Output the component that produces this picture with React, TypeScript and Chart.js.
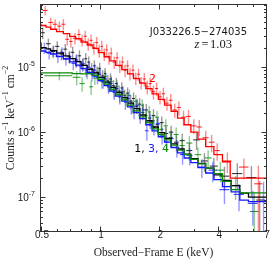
import React, { useEffect, useRef } from "react";
import { Chart, registerables } from "chart.js";
Chart.register(...registerables);

// ---------- axes ----------
const xRange = [0.5, 7];
const yRange = [3.43e-8, 9.1e-5];
const xMajorTicks = [0.5, 1, 2, 4, 7];
const xTickLabels = ["0.5", "1", "2", "4", "7"];
const xMinorTicks = [0.6, 0.7, 0.8, 0.9, 3, 5, 6];
const yMajorTicks = [1e-7, 1e-6, 1e-5];
const yTickBase = ["10", "10", "10"];
const yTickExp = ["-7", "-6", "-5"];
const yMinorTicks = [4e-8, 5e-8, 6e-8, 7e-8, 8e-8, 9e-8, 2e-7, 3e-7, 4e-7, 5e-7, 6e-7, 7e-7, 8e-7, 9e-7, 2e-6, 3e-6, 4e-6, 5e-6, 6e-6, 7e-6, 8e-6, 9e-6, 2e-5, 3e-5, 4e-5, 5e-5, 6e-5, 7e-5, 8e-5, 9e-5];
const xTitle = "Observed\u2212Frame E (keV)";
const yTitleParts = [["Counts s", "\u22121"], [" keV", "\u22121"], [" cm", "\u22122"]];

// ---------- annotations ----------
const sourceName = "J033226.5\u2212274035";
const sourceAnchor = [3.17, 3.42e-5];
const redshiftText = "1.03";
const redshiftAnchor = [3.77, 2.25e-5];
const label2Anchor = [1.85, 6.65e-6];
const label134Anchor = [1.83, 5.4e-7];

// ---------- models (bin edges + values) ----------
const redModelE = [0.5, 0.53, 0.56, 0.6, 0.65, 0.7, 0.75, 0.8, 0.86, 0.92, 0.98, 1.05, 1.12, 1.2, 1.29, 1.38, 1.48, 1.59, 1.71, 1.84, 1.98, 2.13, 2.3, 2.48, 2.68, 2.9, 3.15, 3.45, 3.8, 4.2, 4.6, 5.75, 7.0];
const redModelF = [4.7e-5, 4.4e-5, 4.15e-5, 3.85e-5, 3.55e-5, 3.3e-5, 3.0e-5, 2.75e-5, 2.45e-5, 2.2e-5, 1.95e-5, 1.68e-5, 1.45e-5, 1.25e-5, 1.07e-5, 9.2e-6, 7.9e-6, 6.7e-6, 5.7e-6, 4.7e-6, 3.9e-6, 3.2e-6, 2.6e-6, 2.1e-6, 1.65e-6, 1.3e-6, 1.0e-6, 7.8e-7, 6.0e-7, 4.5e-7, 3.5e-7, 1.96e-7];

const blackModelE = [0.5, 0.53, 0.56, 0.6, 0.65, 0.7, 0.75, 0.8, 0.86, 0.92, 0.98, 1.05, 1.12, 1.2, 1.29, 1.38, 1.48, 1.59, 1.71, 1.84, 1.98, 2.13, 2.3, 2.48, 2.68, 2.9, 3.15, 3.45, 3.8, 4.2, 4.65, 5.15, 5.7, 6.3, 7.0];
const blackModelF = [2.4e-5, 2.0e-5, 1.92e-5, 1.8e-5, 1.65e-5, 1.5e-5, 1.36e-5, 1.22e-5, 1.07e-5, 9.3e-6, 8.2e-6, 7.0e-6, 5.9e-6, 4.9e-6, 4.1e-6, 3.4e-6, 2.8e-6, 2.3e-6, 1.85e-6, 1.5e-6, 1.2e-6, 9.8e-7, 8.0e-7, 6.6e-7, 5.5e-7, 4.6e-7, 3.9e-7, 3.3e-7, 2.8e-7, 2.2e-7, 1.8e-7, 1.5e-7, 1.15e-7, 1.0e-7];

const blueModelE = [0.5, 0.53, 0.56, 0.6, 0.65, 0.7, 0.75, 0.8, 0.86, 0.92, 0.98, 1.05, 1.12, 1.2, 1.29, 1.38, 1.48, 1.59, 1.71, 1.84, 1.98, 2.13, 2.3, 2.48, 2.68, 2.9, 3.15, 3.45, 3.8, 4.2, 4.65, 5.15, 5.7, 6.3, 7.0];
const blueModelF = [1.9e-5, 1.78e-5, 1.7e-5, 1.6e-5, 1.47e-5, 1.34e-5, 1.21e-5, 1.08e-5, 9.5e-6, 8.3e-6, 7.3e-6, 6.2e-6, 5.2e-6, 4.3e-6, 3.6e-6, 3.0e-6, 2.45e-6, 2.0e-6, 1.62e-6, 1.3e-6, 1.05e-6, 8.5e-7, 7.0e-7, 5.8e-7, 4.8e-7, 4.0e-7, 3.4e-7, 2.85e-7, 2.35e-7, 1.85e-7, 1.45e-7, 1.2e-7, 9.0e-8, 8.5e-8];

const greenModelE = [0.5, 0.72, 0.8, 0.86, 0.92, 0.98, 1.05, 1.12, 1.2, 1.29, 1.38, 1.48, 1.59, 1.71, 1.84, 1.98, 2.13, 2.3, 2.48, 2.68, 2.9, 3.15, 3.45, 3.8, 4.2, 4.65, 5.15, 5.7, 6.3, 7.0];
const greenModelF = [7.4e-6, 8.2e-6, 8.0e-6, 7.9e-6, 8.0e-6, 7.5e-6, 6.5e-6, 5.5e-6, 4.55e-6, 3.8e-6, 3.15e-6, 2.6e-6, 2.12e-6, 1.72e-6, 1.4e-6, 1.12e-6, 9.2e-7, 7.6e-7, 6.3e-7, 5.3e-7, 4.5e-7, 3.8e-7, 3.25e-7, 2.8e-7, 2.3e-7, 1.75e-7, 1.3e-7, 1.16e-7, 1.16e-7];

// ---------- data points (centre E, half bin width, flux, fractional error) ----------
const redE = [0.525, 0.56, 0.59, 0.62, 0.65, 0.68, 0.71, 0.745, 0.78, 0.81,
  0.84, 0.87, 0.9, 0.93, 0.96, 0.99, 1.02, 1.05, 1.08, 1.11,
  1.14, 1.18, 1.22, 1.26, 1.3, 1.34, 1.38, 1.42, 1.47, 1.52,
  1.57, 1.62, 1.68, 1.74, 1.8, 1.87, 1.94, 2.02, 2.1, 2.19,
  2.29, 2.4, 2.52, 2.66, 2.82, 3.0, 3.2, 3.45, 3.7, 3.95,
  4.45, 5.4, 6.4];
const redDx = [0.015, 0.015, 0.015, 0.015, 0.015, 0.015, 0.015, 0.018, 0.015, 0.015,
  0.015, 0.015, 0.015, 0.015, 0.015, 0.015, 0.015, 0.015, 0.015, 0.015,
  0.015, 0.02, 0.02, 0.02, 0.02, 0.02, 0.02, 0.02, 0.025, 0.025,
  0.025, 0.025, 0.03, 0.03, 0.03, 0.035, 0.035, 0.04, 0.04, 0.045,
  0.05, 0.055, 0.06, 0.07, 0.08, 0.09, 0.1, 0.12, 0.12, 0.13,
  0.22, 0.3, 0.3];
const redF = [7.5e-5, 4.9e-5, 4.6e-5, 4.3e-5, 4.6e-5, 2.7e-5, 2.5e-5, 2.8e-5, 3.2e-5, 2.6e-5,
  3.0e-5, 2.3e-5, 2.6e-5, 2.0e-5, 2.4e-5, 1.8e-5, 2.1e-5, 1.6e-5, 1.85e-5, 1.4e-5,
  1.65e-5, 1.2e-5, 1.4e-5, 1.05e-5, 1.2e-5, 9.0e-6, 1.05e-5, 8.0e-6, 9.0e-6, 6.8e-6,
  7.8e-6, 5.8e-6, 6.6e-6, 5.0e-6, 5.6e-6, 4.2e-6, 4.7e-6, 3.5e-6, 3.9e-6, 2.8e-6,
  3.1e-6, 2.2e-6, 2.4e-6, 1.7e-6, 1.75e-6, 1.25e-6, 1.2e-6, 8.2e-7, 7.0e-7, 5.2e-7,
  3.6e-7, 2.9e-7, 1.6e-7];
const redErr = [0.16, 0.18, 0.18, 0.18, 0.2, 0.2, 0.2, 0.2, 0.2, 0.2,
  0.22, 0.22, 0.22, 0.22, 0.22, 0.22, 0.22, 0.22, 0.22, 0.22,
  0.22, 0.22, 0.22, 0.22, 0.22, 0.22, 0.22, 0.22, 0.22, 0.22,
  0.22, 0.22, 0.24, 0.24, 0.24, 0.24, 0.24, 0.24, 0.24, 0.24,
  0.25, 0.25, 0.25, 0.26, 0.26, 0.26, 0.28, 0.28, 0.3, 0.3,
  0.35, 0.35, 0.9];

const blackE = [0.51, 0.545, 0.575, 0.605, 0.635, 0.665, 0.695, 0.725, 0.755, 0.785,
  0.815, 0.845, 0.875, 0.905, 0.935, 0.965, 0.995, 1.03, 1.06, 1.095,
  1.13, 1.17, 1.21, 1.25, 1.29, 1.335, 1.38, 1.43, 1.48, 1.535,
  1.59, 1.65, 1.72, 1.79, 1.87, 1.96, 2.06, 2.17, 2.3, 2.45,
  2.62, 2.85, 3.1, 3.4, 3.8, 4.3, 5.0, 5.9, 6.5];
const blackDx = [0.012, 0.015, 0.015, 0.015, 0.015, 0.015, 0.015, 0.015, 0.015, 0.015,
  0.015, 0.015, 0.015, 0.015, 0.015, 0.015, 0.015, 0.015, 0.015, 0.018,
  0.018, 0.02, 0.02, 0.02, 0.02, 0.022, 0.022, 0.025, 0.025, 0.028,
  0.028, 0.03, 0.035, 0.035, 0.04, 0.045, 0.05, 0.055, 0.06, 0.07,
  0.08, 0.1, 0.12, 0.14, 0.18, 0.25, 0.3, 0.35, 0.25];
const blackF = [3.4e-5, 2.3e-5, 1.75e-5, 2.1e-5, 1.6e-5, 1.9e-5, 1.45e-5, 1.7e-5, 1.25e-5, 1.5e-5,
  1.1e-5, 1.35e-5, 1.2e-5, 9.5e-6, 1.05e-5, 8.4e-6, 9.6e-6, 7.4e-6, 8.0e-6, 6.2e-6,
  6.6e-6, 5.2e-6, 5.6e-6, 4.3e-6, 4.8e-6, 3.7e-6, 4.0e-6, 3.0e-6, 3.3e-6, 2.5e-6,
  2.7e-6, 2.0e-6, 2.2e-6, 1.65e-6, 1.8e-6, 1.3e-6, 1.4e-6, 9.5e-7, 1.0e-6, 7.0e-7,
  7.4e-7, 5.2e-7, 7.6e-7, 3.6e-7, 3.0e-7, 2.1e-7, 2.3e-7, 2.0e-7, 9.0e-8];
const blackErr = [0.2, 0.2, 0.2, 0.2, 0.2, 0.2, 0.2, 0.22, 0.22, 0.22,
  0.22, 0.22, 0.22, 0.22, 0.22, 0.22, 0.22, 0.22, 0.22, 0.22,
  0.22, 0.22, 0.22, 0.22, 0.22, 0.22, 0.22, 0.24, 0.24, 0.24,
  0.24, 0.24, 0.24, 0.25, 0.25, 0.25, 0.25, 0.26, 0.26, 0.28,
  0.28, 0.3, 0.3, 0.32, 0.35, 0.4, 0.45, 0.5, 0.95];

const blueE = [0.52, 0.55, 0.58, 0.61, 0.64, 0.67, 0.7, 0.73, 0.76, 0.79,
  0.82, 0.85, 0.88, 0.91, 0.94, 0.97, 1.0, 1.035, 1.07, 1.105,
  1.14, 1.18, 1.22, 1.26, 1.3, 1.345, 1.39, 1.44, 1.49, 1.545,
  1.6, 1.66, 1.73, 1.8, 1.88, 1.97, 2.07, 2.18, 2.31, 2.46,
  2.63, 2.86, 3.3, 3.75, 4.3, 5.1, 6.0, 6.8];
const blueDx = [0.012, 0.015, 0.015, 0.015, 0.015, 0.015, 0.015, 0.015, 0.015, 0.015,
  0.015, 0.015, 0.015, 0.015, 0.015, 0.015, 0.015, 0.015, 0.015, 0.018,
  0.018, 0.02, 0.02, 0.02, 0.02, 0.022, 0.022, 0.025, 0.025, 0.028,
  0.028, 0.03, 0.035, 0.035, 0.04, 0.045, 0.05, 0.055, 0.06, 0.07,
  0.08, 0.1, 0.15, 0.18, 0.25, 0.3, 0.35, 0.12];
const blueF = [2.0e-5, 1.65e-5, 1.8e-5, 1.45e-5, 1.7e-5, 1.35e-5, 1.45e-5, 1.15e-5, 1.3e-5, 1.05e-5,
  1.15e-5, 9.0e-6, 1.0e-5, 7.8e-6, 9.0e-6, 7.0e-6, 7.8e-6, 6.0e-6, 6.6e-6, 5.0e-6,
  5.6e-6, 4.1e-6, 4.7e-6, 3.5e-6, 4.0e-6, 2.9e-6, 3.3e-6, 2.5e-6, 2.1e-6, 2.6e-6,
  1.8e-6, 2.2e-6, 1.05e-6, 1.5e-6, 1.2e-6, 1.35e-6, 9.0e-7, 7.0e-7, 8.0e-7, 5.8e-7,
  4.5e-7, 4.4e-7, 2.9e-7, 2.6e-7, 1.3e-7, 1.1e-7, 8.0e-8, 9.0e-8];
const blueErr = [0.2, 0.2, 0.2, 0.2, 0.2, 0.22, 0.22, 0.22, 0.22, 0.22,
  0.22, 0.22, 0.22, 0.22, 0.22, 0.22, 0.22, 0.22, 0.22, 0.22,
  0.24, 0.24, 0.24, 0.24, 0.24, 0.24, 0.24, 0.25, 0.25, 0.25,
  0.25, 0.25, 0.3, 0.26, 0.26, 0.26, 0.28, 0.28, 0.28, 0.3,
  0.3, 0.3, 0.32, 0.35, 0.4, 0.45, 0.55, 0.9];

const greenE = [0.62, 0.76, 0.81, 0.86, 0.9, 0.94, 0.98, 1.02, 1.06, 1.1,
  1.14, 1.18, 1.22, 1.26, 1.31, 1.36, 1.41, 1.46, 1.52, 1.58,
  1.64, 1.71, 1.78, 1.86, 1.95, 2.05, 2.16, 2.29, 2.44, 2.62,
  2.85, 3.15, 3.55, 4.1, 4.9, 6.1];
const greenDx = [0.1, 0.035, 0.025, 0.025, 0.02, 0.02, 0.02, 0.02, 0.02, 0.02,
  0.02, 0.02, 0.02, 0.02, 0.025, 0.025, 0.025, 0.025, 0.03, 0.03,
  0.03, 0.035, 0.035, 0.04, 0.045, 0.05, 0.055, 0.06, 0.07, 0.08,
  0.1, 0.12, 0.15, 0.2, 0.3, 0.3];
const greenF = [7.4e-6, 7.0e-6, 5.6e-6, 8.4e-6, 5.0e-6, 6.8e-6, 8.2e-6, 6.0e-6, 7.2e-6, 5.3e-6,
  6.0e-6, 4.4e-6, 5.1e-6, 3.7e-6, 4.2e-6, 3.2e-6, 3.7e-6, 2.5e-6, 3.0e-6, 2.3e-6,
  2.6e-6, 1.8e-6, 2.05e-6, 1.5e-6, 1.7e-6, 1.1e-6, 1.25e-6, 8.2e-7, 9.2e-7, 6.2e-7,
  6.8e-7, 4.5e-7, 4.0e-7, 2.6e-7, 1.5e-7, 6.0e-8];
const greenErr = [0.15, 0.25, 0.25, 0.22, 0.25, 0.22, 0.22, 0.22, 0.22, 0.22,
  0.22, 0.22, 0.22, 0.22, 0.22, 0.22, 0.22, 0.24, 0.24, 0.24,
  0.24, 0.24, 0.24, 0.25, 0.25, 0.26, 0.26, 0.28, 0.28, 0.28,
  0.28, 0.3, 0.32, 0.35, 0.4, 0.95];

// ---------- styles ----------
const COLORS = {
  black: { line: "#000000", h: "rgba(0,0,0,0.85)", v: "rgba(0,0,0,0.4)" },
  red: { line: "#ff0000", h: "rgba(255,0,0,0.9)", v: "rgba(255,0,0,0.45)" },
  blue: { line: "#1414ff", h: "rgba(20,20,255,0.9)", v: "rgba(20,20,255,0.45)" },
  green: { line: "#0a8a0a", h: "rgba(10,138,10,0.9)", v: "rgba(10,138,10,0.45)" },
};

const dataSeries = [
  { c: COLORS.black, E: blackE, dx: blackDx, F: blackF, err: blackErr },
  { c: COLORS.green, E: greenE, dx: greenDx, F: greenF, err: greenErr },
  { c: COLORS.blue, E: blueE, dx: blueDx, F: blueF, err: blueErr },
  { c: COLORS.red, E: redE, dx: redDx, F: redF, err: redErr },
];

function steps(edges: number[], vals: number[]) {
  const pts: { x: number; y: number }[] = [];
  for (let i = 0; i < vals.length; i++) pts.push({ x: edges[i], y: vals[i] });
  pts.push({ x: edges[vals.length], y: vals[vals.length - 1] });
  return pts;
}

const errorBarPlugin = {
  id: "errorBars",
  beforeDatasetsDraw(chart: any) {
    const { ctx, chartArea: a, scales } = chart;
    const xs = scales.x, ys = scales.y;
    ctx.save();
    ctx.beginPath();
    ctx.rect(a.left, a.top, a.right - a.left, a.bottom - a.top);
    ctx.clip();
    for (const s of dataSeries) {
      const n = Math.min(s.E.length, s.F.length, s.dx.length, s.err.length);
      for (let i = 0; i < n; i++) {
        const e = s.E[i], f = s.F[i], dx = s.dx[i], df = f * s.err[i];
        const px = xs.getPixelForValue(e);
        const pl = xs.getPixelForValue(e - dx);
        const pr = xs.getPixelForValue(e + dx);
        const py = ys.getPixelForValue(f);
        const pt = ys.getPixelForValue(f + df);
        const lo = f - df;
        const pb = lo > 0 ? ys.getPixelForValue(lo) : a.bottom + 5;
        ctx.strokeStyle = s.c.v;
        ctx.lineWidth = 1.4;
        ctx.beginPath();
        ctx.moveTo(px, pt);
        ctx.lineTo(px, pb);
        ctx.stroke();
        ctx.strokeStyle = s.c.h;
        ctx.lineWidth = 1;
        ctx.beginPath();
        ctx.moveTo(pl, py);
        ctx.lineTo(pr, py);
        ctx.stroke();
      }
    }
    ctx.restore();
  },
};

const framePlugin = {
  id: "frameText",
  afterDraw(chart: any) {
    const { ctx, chartArea: a, scales } = chart;
    const xs = scales.x, ys = scales.y;
    const L = Math.round(a.left) - 0.5, R = Math.round(a.right) + 0.5;
    const T = Math.round(a.top) - 0.5, B = Math.round(a.bottom) + 0.5;
    ctx.save();
    ctx.strokeStyle = "#333333";
    ctx.lineWidth = 1;
    ctx.strokeRect(L, T, R - L, B - T);
    const tick = (v: number, len: number, axis: "x" | "y") => {
      ctx.beginPath();
      if (axis === "x") {
        const p = Math.round(xs.getPixelForValue(v)) + 0.5;
        ctx.moveTo(p, B); ctx.lineTo(p, B - len);
        ctx.moveTo(p, T); ctx.lineTo(p, T + len);
      } else {
        const p = Math.round(ys.getPixelForValue(v)) + 0.5;
        ctx.moveTo(L, p); ctx.lineTo(L + len, p);
        ctx.moveTo(R, p); ctx.lineTo(R - len, p);
      }
      ctx.stroke();
    };
    xMajorTicks.forEach((v) => tick(v, 5, "x"));
    xMinorTicks.forEach((v) => tick(v, 2.5, "x"));
    yMajorTicks.forEach((v) => tick(v, 5, "y"));
    yMinorTicks.forEach((v) => tick(v, 2.5, "y"));

    // x tick labels
    ctx.fillStyle = "#1a1a1a";
    ctx.font = "10px 'Liberation Sans', Arial, sans-serif";
    ctx.textAlign = "center";
    ctx.textBaseline = "middle";
    xMajorTicks.forEach((v, i) => {
      ctx.fillText(xTickLabels[i], xs.getPixelForValue(v) + 1, a.bottom + 4.5);
    });

    // y tick labels with superscripts
    yMajorTicks.forEach((v, i) => {
      const py = ys.getPixelForValue(v);
      const right = a.left - 6;
      ctx.textAlign = "right";
      ctx.textBaseline = "middle";
      ctx.font = "7px 'Liberation Sans', Arial, sans-serif";
      const ew = ctx.measureText(yTickExp[i]).width;
      ctx.fillText(yTickExp[i], right, py - 3);
      ctx.font = "10px 'Liberation Sans', Arial, sans-serif";
      ctx.fillText(yTickBase[i], right - ew, py + 1.5);
    });

    // x title
    ctx.font = "11.5px 'Liberation Serif', 'Times New Roman', serif";
    ctx.textAlign = "center";
    ctx.textBaseline = "middle";
    ctx.fillText(xTitle, (a.left + a.right) / 2, 253);

    // y title (rotated, with superscripts)
    const mainFont = "11.5px 'Liberation Serif', 'Times New Roman', serif";
    const supFont = "8px 'Liberation Serif', 'Times New Roman', serif";
    let total = 0;
    for (const [t, s] of yTitleParts) {
      ctx.font = mainFont; total += ctx.measureText(t).width;
      ctx.font = supFont; total += ctx.measureText(s).width;
    }
    ctx.save();
    ctx.translate(9.5, (a.top + a.bottom) / 2);
    ctx.rotate(-Math.PI / 2);
    ctx.textAlign = "left";
    ctx.textBaseline = "middle";
    let cx = -total / 2;
    for (const [t, s] of yTitleParts) {
      ctx.font = mainFont; ctx.fillText(t, cx, 1); cx += ctx.measureText(t).width;
      ctx.font = supFont; ctx.fillText(s, cx, -3.5); cx += ctx.measureText(s).width;
    }
    ctx.restore();

    // annotations
    const P = (an: number[]) => [xs.getPixelForValue(an[0]), ys.getPixelForValue(an[1])];
    ctx.fillStyle = "#1a1a1a";
    ctx.font = "10px 'DejaVu Sans', sans-serif";
    ctx.textAlign = "center";
    ctx.textBaseline = "middle";
    const [sx, sy] = P(sourceAnchor);
    ctx.fillText(sourceName, sx, sy);

    const [zx, zy] = P(redshiftAnchor);
    ctx.textAlign = "left";
    const zFont = "italic 12.5px 'Liberation Serif', serif";
    const rFont = "12.5px 'Liberation Serif', serif";
    ctx.font = zFont; const zw = ctx.measureText("z").width;
    ctx.font = rFont; const eqw = ctx.measureText("=").width; const nw = ctx.measureText(redshiftText).width;
    const tw = zw + 2 + eqw + 1.5 + nw;
    let zxp = zx - tw / 2;
    ctx.font = zFont; ctx.fillText("z", zxp, zy); zxp += zw + 2;
    ctx.font = rFont; ctx.fillText("=", zxp, zy); zxp += eqw + 1.5;
    ctx.fillText(redshiftText, zxp, zy);

    ctx.font = "11px 'DejaVu Sans', sans-serif";
    ctx.textAlign = "center";
    const [lx, ly] = P(label2Anchor);
    ctx.fillStyle = COLORS.red.line;
    ctx.fillText("2", lx, ly);

    const parts: [string, string][] = [["1, ", COLORS.black.line], ["3, ", COLORS.blue.line], ["4", COLORS.green.line]];
    let w = 0;
    for (const [t] of parts) w += ctx.measureText(t).width;
    const [mx, my] = P(label134Anchor);
    let px = mx - w / 2;
    ctx.textAlign = "left";
    for (const [t, c] of parts) {
      ctx.fillStyle = c;
      ctx.fillText(t, px, my);
      px += ctx.measureText(t).width;
    }
    ctx.restore();
  },
};

export default function App() {
  const ref = useRef<HTMLCanvasElement | null>(null);
  useEffect(() => {
    document.body.style.margin = "0";
    const canvas = ref.current;
    if (!canvas) return;
    const mk = (edges: number[], vals: number[], color: string) => ({
      data: steps(edges, vals),
      borderColor: color,
      backgroundColor: color,
      borderWidth: 1.3,
      pointRadius: 0,
      stepped: "after" as const,
      fill: false,
      tension: 0,
    });
    const chart = new Chart(canvas, {
      type: "line",
      data: {
        datasets: [
          mk(greenModelE, greenModelF, COLORS.green.line),
          mk(blueModelE, blueModelF, COLORS.blue.line),
          mk(blackModelE, blackModelF, COLORS.black.line),
          mk(redModelE, redModelF, COLORS.red.line),
        ],
      },
      options: {
        animation: false,
        responsive: false,
        maintainAspectRatio: false,
        events: [],
        layout: { padding: { left: 41, right: 8, top: 5, bottom: 31 } },
        scales: {
          x: { type: "logarithmic", min: xRange[0], max: xRange[1], display: false },
          y: { type: "logarithmic", min: yRange[0], max: yRange[1], display: false },
        },
        plugins: { legend: { display: false }, tooltip: { enabled: false } },
      },
      plugins: [errorBarPlugin, framePlugin],
    } as any);
    return () => chart.destroy();
  }, []);
  return (
    <div style={{ position: "fixed", left: 0, top: 0, width: 274, height: 262, background: "#fff" }}>
      <canvas ref={ref} width={274} height={262} style={{ display: "block", width: 274, height: 262 }} />
    </div>
  );
}
